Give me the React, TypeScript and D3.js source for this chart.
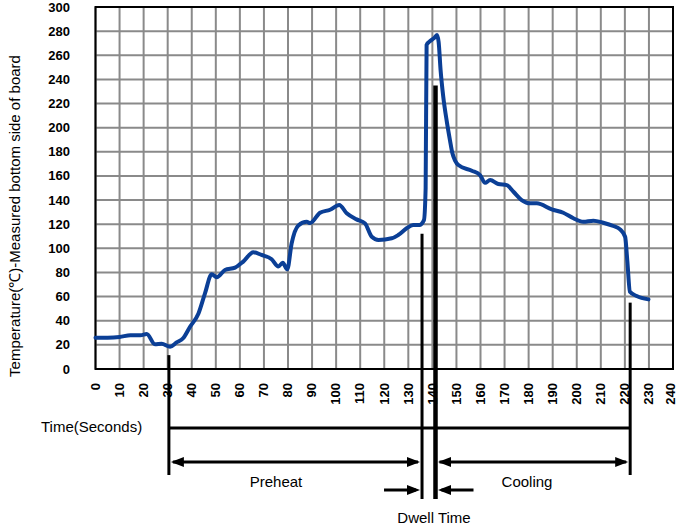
import React from "react";
import * as d3 from "d3";

const times = [0, 5, 10, 14.5, 18.7, 21.3, 24.7, 27.5, 31, 33.7, 36.5, 39.3, 42.8, 45.5, 48.3, 50.4, 53.8, 58, 61.4, 65.6, 69, 73.2, 76, 77.8, 79.7, 81.5, 84.3, 87.8, 89.2, 93.3, 97.5, 101.3, 104.4, 108.5, 112, 114.8, 117.6, 123.1, 125.8, 129.3, 132, 134.6, 136.5, 137.2, 137.6, 138.7, 140.7, 141.9, 142.6, 143.4, 144.5, 146, 147.3, 148.3, 149.5, 150.8, 156.4, 159.8, 161.9, 164, 167.4, 170.9, 173.7, 177.1, 180.6, 183.4, 189.6, 194.4, 198.6, 202.7, 206.9, 211, 215.2, 218, 220.1, 221, 222.1, 224.9, 229.8];
const temps = [26, 26, 26.5, 28, 28, 29, 20.5, 21, 18.5, 22, 25.7, 35, 46, 62.7, 78.5, 76, 82, 84, 89, 96.7, 94.5, 91, 85, 88, 82.6, 104, 119, 122, 121, 129.5, 132, 136, 129, 124, 120.7, 109.6, 107, 108.3, 111, 116.6, 119.3, 119.3, 123.4, 150, 268.5, 271.2, 274.2, 276.7, 271, 248, 226, 205, 189.7, 179, 172.5, 169, 164.3, 160.7, 154.3, 156.6, 153.3, 152.4, 146.9, 140, 137.3, 137.3, 132.3, 129.5, 124.9, 122, 122.9, 121.2, 118.5, 115.7, 109.6, 90, 64, 60.5, 57.7];

const xTicks = d3.range(0, 241, 10);
const yTicks = d3.range(0, 301, 20);

// annotation times (seconds) and the temperatures where their marker lines start
const preheatStart = 30.5;
const dwellStart = 135.7;
const dwellEnd = 141.3;
const coolEnd = 222.2;
const preheatTop = 11.5;
const dwellStartTop = 112;
const dwellEndTop = 235;
const coolEndTop = 55;

const yTitle = "Temperature(\u2103)-Measured bottom side of board";
const xTitle = "Time(Seconds)";

export default function App() {
  const x = d3.scaleLinear().domain([0, 240]).range([95.5, 673]);
  const y = d3.scaleLinear().domain([0, 300]).range([369, 7]);
  const pts = times.map((t, i) => [t, temps[i]] as [number, number]);
  const line = d3
    .line<[number, number]>()
    .x((d) => x(d[0]))
    .y((d) => y(d[1]))
    .curve(d3.curveMonotoneX);

  const font = "'Liberation Sans', Arial, sans-serif";
  const hLineY = 428;
  const arrowY = 462;
  const dwellArrowY = 490;
  const bottomY = 475;
  const dwellBottom = 499;

  const head = (tipX: number, yy: number, dir: number) => {
    const L = 13, W = 5;
    return `M${tipX},${yy} L${tipX - dir * L},${yy - W} L${tipX - dir * L},${yy + W} Z`;
  };

  return (
    <svg
      width={679}
      height={529}
      style={{ position: "absolute", left: 0, top: 0, background: "#fff" }}
      fontFamily={font}
    >
      <rect x={0} y={0} width={679} height={529} fill="#fff" />
      {/* grid */}
      {xTicks.map((t) => (
        <line key={"gx" + t} x1={x(t)} x2={x(t)} y1={y(0)} y2={y(300)} stroke="#8a8a8a" strokeWidth={2} />
      ))}
      {yTicks.map((v) => (
        <line key={"gy" + v} x1={x(0)} x2={x(240)} y1={y(v)} y2={y(v)} stroke="#8a8a8a" strokeWidth={2} />
      ))}
      <rect x={x(0)} y={y(300)} width={x(240) - x(0)} height={y(0) - y(300)} fill="none" stroke="#000" strokeWidth={2} />

      {/* y tick labels */}
      {yTicks.map((v) => (
        <text key={"yl" + v} x={70} y={y(v)} dy="0.35em" textAnchor="end" fontSize={13} fontWeight="bold">
          {v}
        </text>
      ))}
      {/* x tick labels */}
      {xTicks.map((t) => (
        <text
          key={"xl" + t}
          transform={`translate(${Math.min(x(t), 671)},383) rotate(-90)`}
          textAnchor="end"
          dy="0.33em"
          fontSize={13}
          fontWeight="bold"
        >
          {t}
        </text>
      ))}

      {/* axis titles */}
      <text transform="translate(20,216) rotate(-90)" textAnchor="middle" fontSize={15}>
        {yTitle}
      </text>
      <text x={41} y={432} fontSize={15}>
        {xTitle}
      </text>

      {/* curve */}
      <path d={line(pts) || ""} fill="none" stroke="#0b3f96" strokeWidth={4} strokeLinejoin="round" strokeLinecap="round" />

      {/* annotation lines */}
      <g stroke="#000" fill="none">
        <line x1={x(preheatStart)} x2={x(preheatStart)} y1={y(preheatTop)} y2={bottomY} strokeWidth={3} />
        <line x1={x(coolEnd)} x2={x(coolEnd)} y1={y(coolEndTop)} y2={bottomY} strokeWidth={3} />
        <line x1={x(dwellStart)} x2={x(dwellStart)} y1={y(dwellStartTop)} y2={dwellBottom} strokeWidth={3} />
        <line x1={x(dwellEnd)} x2={x(dwellEnd)} y1={y(dwellEndTop)} y2={dwellBottom} strokeWidth={4.5} />
        <line x1={x(preheatStart)} x2={x(coolEnd)} y1={hLineY} y2={hLineY} strokeWidth={3} />
        <line x1={x(preheatStart) + 4} x2={x(dwellStart) - 4} y1={arrowY} y2={arrowY} strokeWidth={3} />
        <line x1={x(dwellEnd) + 4} x2={x(coolEnd) - 4} y1={arrowY} y2={arrowY} strokeWidth={3} />
        <line x1={x(dwellStart) - 38} x2={x(dwellStart) - 6} y1={dwellArrowY} y2={dwellArrowY} strokeWidth={3} />
        <line x1={x(dwellEnd) + 38} x2={x(dwellEnd) + 6} y1={dwellArrowY} y2={dwellArrowY} strokeWidth={3} />
      </g>
      <g fill="#000">
        <path d={head(x(preheatStart) + 2, arrowY, -1)} />
        <path d={head(x(dwellStart) - 2, arrowY, 1)} />
        <path d={head(x(dwellEnd) + 2.5, arrowY, -1)} />
        <path d={head(x(coolEnd) - 2, arrowY, 1)} />
        <path d={head(x(dwellStart) - 2, dwellArrowY, 1)} />
        <path d={head(x(dwellEnd) + 2.5, dwellArrowY, -1)} />
      </g>
      <text x={276} y={487} textAnchor="middle" fontSize={15}>Preheat</text>
      <text x={527} y={487} textAnchor="middle" fontSize={15}>Cooling</text>
      <text x={434} y={523} textAnchor="middle" fontSize={15}>Dwell Time</text>
    </svg>
  );
}
